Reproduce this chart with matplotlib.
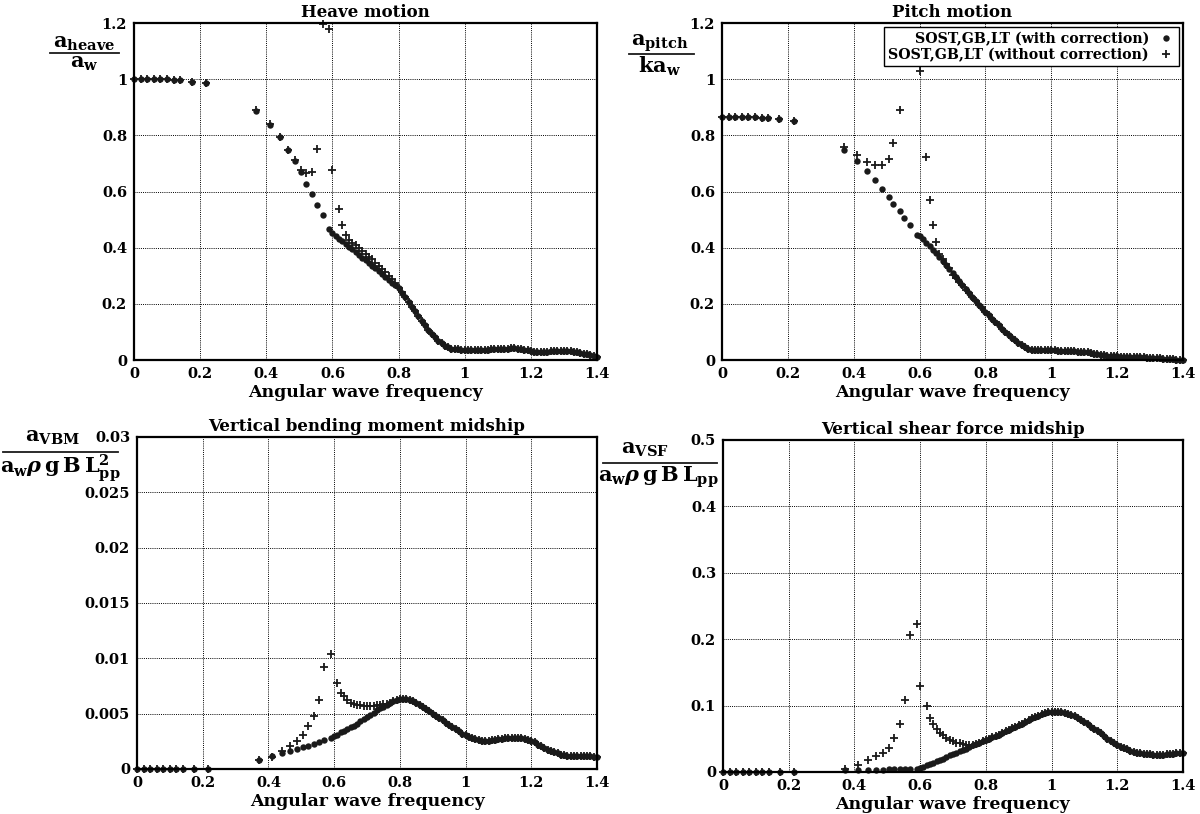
import numpy as np
import matplotlib
matplotlib.use('Agg')
import matplotlib.pyplot as plt
from matplotlib.lines import Line2D
from matplotlib.ticker import FuncFormatter, MultipleLocator

nan = np.nan

# Frequenzpunkte: niedrig, mittel, dicht (0.60 .. 1.40)
freq_low = [0.0, 0.02, 0.04, 0.06, 0.08, 0.10, 0.12, 0.14, 0.174, 0.217]
freq_mid = [0.370, 0.411, 0.440, 0.465, 0.486, 0.506, 0.520, 0.539, 0.553, 0.570, 0.591]
freq_dense = list(np.round(np.arange(60, 141) / 100, 2))
freq = freq_low + freq_mid + freq_dense

# Heave
heave_corr = [
    1.0, 1.0, 1.0, 1.0, 1.0, 0.999, 0.998, 0.996, 0.991, 0.985,
    0.886, 0.837, 0.793, 0.749, 0.708, 0.668, 0.628, 0.591, 0.551, 0.518, 0.467,
    0.452, 0.442, 0.432, 0.423, 0.413, 0.403, 0.394, 0.384, 0.374, 0.365,
    0.355, 0.345, 0.336, 0.326, 0.316, 0.306, 0.296, 0.286, 0.276, 0.266,
    0.255, 0.240, 0.224, 0.207, 0.190, 0.173, 0.157, 0.140, 0.124, 0.108,
    0.094, 0.081, 0.069, 0.059, 0.051, 0.045, 0.041, 0.039, 0.038, 0.037,
    0.037, 0.037, 0.037, 0.037, 0.037, 0.037, 0.037, 0.037, 0.038, 0.038,
    0.038, 0.039, 0.040, 0.041, 0.042, 0.042, 0.041, 0.040, 0.037, 0.034,
    0.032, 0.030, 0.029, 0.029, 0.029, 0.030, 0.031, 0.032, 0.033, 0.033,
    0.033, 0.032, 0.031, 0.029, 0.027, 0.025, 0.023, 0.020, 0.018, 0.015,
    0.012,
]
heave_nocorr = [
    1.0, 1.0, 1.0, 1.0, 1.0, 0.999, 0.998, 0.996, 0.991, 0.985,
    0.890, 0.840, 0.793, 0.749, 0.712, 0.677, 0.665, 0.668, 0.752, 1.195, 1.180,
    0.676, nan, 0.539, 0.481, 0.447, 0.428, 0.418, 0.408, 0.398, 0.388,
    0.378, 0.368, 0.358, 0.347, 0.336, 0.325, 0.313, 0.300, 0.287, 0.273,
    0.258, 0.241, 0.224, 0.207, 0.190, 0.173, 0.157, 0.140, 0.124, 0.108,
    0.094, 0.081, 0.069, 0.059, 0.051, 0.045, 0.041, 0.039, 0.038, 0.037,
    0.037, 0.037, 0.037, 0.037, 0.037, 0.037, 0.037, 0.037, 0.038, 0.038,
    0.038, 0.039, 0.040, 0.041, 0.042, 0.042, 0.041, 0.040, 0.037, 0.034,
    0.032, 0.030, 0.029, 0.029, 0.029, 0.030, 0.031, 0.032, 0.033, 0.033,
    0.033, 0.032, 0.031, 0.029, 0.027, 0.025, 0.023, 0.020, 0.018, 0.015,
    0.012,
]

# Pitch
pitch_corr = [
    0.865, 0.865, 0.865, 0.865, 0.865, 0.864, 0.863, 0.862, 0.858, 0.850,
    0.748, 0.708, 0.672, 0.640, 0.610, 0.582, 0.555, 0.530, 0.505, 0.481, 0.445,
    0.442, 0.430, 0.418, 0.405, 0.393, 0.380, 0.367, 0.353, 0.339, 0.324,
    0.310, 0.295, 0.281, 0.266, 0.252, 0.238, 0.224, 0.210, 0.197, 0.184,
    0.171, 0.159, 0.147, 0.135, 0.124, 0.112, 0.101, 0.090, 0.080, 0.070,
    0.061, 0.053, 0.046, 0.041, 0.037, 0.035, 0.034, 0.034, 0.034, 0.034,
    0.034, 0.034, 0.033, 0.033, 0.033, 0.032, 0.032, 0.031, 0.030, 0.029,
    0.028, 0.027, 0.025, 0.023, 0.021, 0.019, 0.018, 0.016, 0.015, 0.014,
    0.013, 0.012, 0.012, 0.011, 0.011, 0.011, 0.010, 0.010, 0.010, 0.009,
    0.008, 0.007, 0.007, 0.006, 0.005, 0.004, 0.003, 0.002, 0.001, 0.001,
    0.0,
]
pitch_nocorr = [
    0.865, 0.865, 0.865, 0.865, 0.865, 0.864, 0.863, 0.862, 0.858, 0.850,
    0.758, 0.730, 0.705, 0.694, 0.696, 0.717, 0.772, 0.890, nan, nan, nan,
    1.030, nan, 0.722, 0.569, 0.480, 0.421, 0.379, 0.358, 0.342, 0.327,
    0.303, 0.293, 0.277, 0.267, 0.250, 0.237, 0.225, 0.210, 0.197, 0.184,
    0.171, 0.159, 0.147, 0.135, 0.124, 0.112, 0.101, 0.090, 0.080, 0.070,
    0.061, 0.053, 0.046, 0.041, 0.037, 0.035, 0.034, 0.034, 0.034, 0.034,
    0.034, 0.034, 0.033, 0.033, 0.033, 0.032, 0.032, 0.031, 0.030, 0.029,
    0.028, 0.027, 0.025, 0.023, 0.021, 0.019, 0.018, 0.016, 0.015, 0.014,
    0.013, 0.012, 0.012, 0.011, 0.011, 0.011, 0.010, 0.010, 0.010, 0.009,
    0.008, 0.007, 0.007, 0.006, 0.005, 0.004, 0.003, 0.002, 0.001, 0.001,
    0.0,
]

# Vertikales Biegemoment
vbm_corr = [
    0.0, 0.0, 0.0, 0.0, 0.0, 0.0, 0.0, 0.0, 0.0, 0.0,
    0.0008, 0.0012, 0.0014, 0.0016, 0.0018, 0.0020, 0.0021, 0.0023, 0.0024, 0.0026, 0.0028,
    0.0030, 0.0031, 0.0033, 0.0034, 0.0036, 0.0038, 0.0039, 0.0041, 0.0043, 0.0045,
    0.0047, 0.0049, 0.0051, 0.0053, 0.0055, 0.0056, 0.0058, 0.0060, 0.0061, 0.0062,
    0.0063, 0.0063, 0.0063, 0.0062, 0.0061, 0.0060, 0.0058, 0.0056, 0.0054, 0.0052,
    0.0050, 0.0048, 0.0046, 0.0044, 0.0042, 0.0040, 0.0038, 0.0036, 0.0034, 0.0032,
    0.0031, 0.0029, 0.0028, 0.0027, 0.0026, 0.0025, 0.0025, 0.0025, 0.0026, 0.0026,
    0.0027, 0.0027, 0.0028, 0.0028, 0.0028, 0.0028, 0.0028, 0.0028, 0.0027, 0.0026,
    0.0025, 0.0024, 0.0022, 0.0021, 0.0019, 0.0017, 0.0016, 0.0015, 0.0014, 0.0013,
    0.0013, 0.0012, 0.0012, 0.0012, 0.0012, 0.0012, 0.0012, 0.0012, 0.0012, 0.0011,
    0.0011,
]
vbm_nocorr = [
    0.0, 0.0, 0.0, 0.0, 0.0, 0.0, 0.0, 0.0, 0.0, 0.0,
    0.0008, 0.0011, 0.0016, 0.0021, 0.0025, 0.0031, 0.0039, 0.0048, 0.0062, 0.0092, 0.0104,
    nan, 0.0078, 0.0069, 0.0066, 0.0062, 0.0060, 0.0059, 0.0058, 0.0058, 0.0057,
    0.0057, 0.0057, 0.0057, 0.0058, 0.0058, 0.0059, 0.0059, 0.0060, 0.0061, 0.0062,
    0.0063, 0.0063, 0.0063, 0.0062, 0.0061, 0.0060, 0.0058, 0.0056, 0.0054, 0.0052,
    0.0050, 0.0048, 0.0046, 0.0044, 0.0042, 0.0040, 0.0038, 0.0036, 0.0034, 0.0032,
    0.0031, 0.0029, 0.0028, 0.0027, 0.0026, 0.0025, 0.0025, 0.0025, 0.0026, 0.0026,
    0.0027, 0.0027, 0.0028, 0.0028, 0.0028, 0.0028, 0.0028, 0.0028, 0.0027, 0.0026,
    0.0025, 0.0024, 0.0022, 0.0021, 0.0019, 0.0017, 0.0016, 0.0015, 0.0014, 0.0013,
    0.0013, 0.0012, 0.0012, 0.0012, 0.0012, 0.0012, 0.0012, 0.0012, 0.0012, 0.0011,
    0.0011,
]

# Vertikale Querkraft
vsf_corr = [
    0.0, 0.0, 0.0, 0.0, 0.0, 0.0, 0.0, 0.0, 0.0, 0.0,
    0.003, 0.003, 0.003, 0.003, 0.003, 0.004, 0.004, 0.004, 0.005, 0.005, 0.005,
    0.006, 0.008, 0.010, 0.012, 0.014, 0.016, 0.018, 0.020, 0.022, 0.025,
    0.027, 0.029, 0.031, 0.033, 0.035, 0.037, 0.040, 0.042, 0.044, 0.046,
    0.048, 0.050, 0.052, 0.054, 0.056, 0.059, 0.061, 0.063, 0.066, 0.068,
    0.071, 0.073, 0.076, 0.078, 0.081, 0.083, 0.085, 0.087, 0.089, 0.090,
    0.091, 0.091, 0.091, 0.090, 0.089, 0.088, 0.086, 0.084, 0.081, 0.078,
    0.075, 0.072, 0.068, 0.065, 0.061, 0.058, 0.054, 0.050, 0.047, 0.044,
    0.041, 0.038, 0.036, 0.034, 0.032, 0.030, 0.029, 0.028, 0.027, 0.027,
    0.027, 0.026, 0.026, 0.026, 0.026, 0.027, 0.027, 0.027, 0.028, 0.028,
    0.029,
]
vsf_nocorr = [
    0.0, 0.0, 0.0, 0.0, 0.0, 0.0, 0.0, 0.0, 0.0, 0.0,
    0.004, 0.010, 0.018, 0.024, 0.029, 0.036, 0.051, 0.073, 0.109, 0.207, 0.223,
    0.130, nan, 0.099, 0.082, 0.072, 0.065, 0.059, 0.055, 0.051, 0.048,
    0.046, 0.044, 0.043, 0.042, 0.041, 0.041, 0.041, 0.042, 0.044, 0.046,
    0.048, 0.050, 0.052, 0.054, 0.056, 0.059, 0.061, 0.063, 0.066, 0.068,
    0.071, 0.073, 0.076, 0.078, 0.081, 0.083, 0.085, 0.087, 0.089, 0.090,
    0.091, 0.091, 0.091, 0.090, 0.089, 0.088, 0.086, 0.084, 0.081, 0.078,
    0.075, 0.072, 0.068, 0.065, 0.061, 0.058, 0.054, 0.050, 0.047, 0.044,
    0.041, 0.038, 0.036, 0.034, 0.032, 0.030, 0.029, 0.028, 0.027, 0.027,
    0.027, 0.026, 0.026, 0.026, 0.026, 0.027, 0.027, 0.027, 0.028, 0.028,
    0.029,
]

label_corr = "SOST,GB,LT (with correction)"
label_nocorr = "SOST,GB,LT (without correction)"
ink = '#1a1a1a'

plt.rcParams['font.family'] = 'DejaVu Serif'
plt.rcParams['font.weight'] = 'bold'
plt.rcParams['mathtext.fontset'] = 'dejavuserif'

fig = plt.figure(figsize=(12, 8.14), dpi=100)
W, H = 1200.0, 814.0

dot_style = dict(linestyle='none', marker='o', markersize=4.6, color=ink,
                 markeredgewidth=0)
plus_style = dict(linestyle='none', marker='+', markersize=5.8,
                  markeredgewidth=1.3, color=ink)


def fmt(v, pos):
    return '%g' % round(v, 4)


def panel(rect, title, y_corr, y_nocorr, ymax, ystep):
    ax = fig.add_axes(rect)
    ax.plot(freq, y_nocorr, clip_on=False, **plus_style)
    ax.plot(freq, y_corr, clip_on=False, **dot_style)
    ax.set_xlim(0, 1.4)
    ax.set_ylim(0, ymax)
    ax.xaxis.set_major_locator(MultipleLocator(0.2))
    ax.yaxis.set_major_locator(MultipleLocator(ystep))
    ax.xaxis.set_major_formatter(FuncFormatter(fmt))
    ax.yaxis.set_major_formatter(FuncFormatter(fmt))
    ax.tick_params(length=0, pad=5, labelsize=10.5)
    ax.grid(True, color='black', linestyle=(0, (1, 1.2)), linewidth=0.7)
    for sp in ax.spines.values():
        sp.set_linewidth(1.6)
    ax.set_title(title, fontsize=12, fontweight='bold', pad=4)
    ax.set_xlabel("Angular wave frequency", fontsize=12.5, fontweight='bold', labelpad=2)
    return ax


ax_heave = panel([0.1117, 0.5577, 0.3858, 0.4140], "Heave motion",
                 heave_corr, heave_nocorr, 1.2, 0.2)
ax_pitch = panel([0.6017, 0.5577, 0.3842, 0.4140], "Pitch motion",
                 pitch_corr, pitch_nocorr, 1.2, 0.2)
ax_vbm = panel([0.1142, 0.0553, 0.3833, 0.4079], "Vertical bending moment midship",
               vbm_corr, vbm_nocorr, 0.03, 0.005)
ax_vsf = panel([0.6025, 0.0516, 0.3833, 0.4079], "Vertical shear force midship",
               vsf_corr, vsf_nocorr, 0.5, 0.1)

# Legende im Pitch-Plot
h_corr, = ax_pitch.plot([], [], **dot_style)
h_nocorr, = ax_pitch.plot([], [], **plus_style)
leg = ax_pitch.legend([h_corr, h_nocorr], [label_corr, label_nocorr],
                      loc='upper right', markerfirst=False, fancybox=False,
                      fontsize=10.2, handlelength=1.2, handletextpad=0.6,
                      borderpad=0.3, labelspacing=0.15, borderaxespad=0.3,
                      framealpha=1)
leg.get_frame().set_edgecolor('black')
leg.get_frame().set_linewidth(1.0)


# y-Achsen-Beschriftungen als Brueche: Zaehler, Bruchstrich, Nenner
def frac(num, den, x_num, y_num, x0, x1, y_bar, x_den, y_den, size=15):
    fig.text(x_num / W, 1 - y_num / H, num, ha='center', va='center', fontsize=size)
    fig.text(x_den / W, 1 - y_den / H, den, ha='center', va='center', fontsize=size)
    fig.add_artist(Line2D([x0 / W, x1 / W], [1 - y_bar / H, 1 - y_bar / H],
                          color=ink, linewidth=1.3, transform=fig.transFigure))


frac(r'$\mathrm{a}_{\mathbf{heave}}$', r'$\mathrm{a}_{\mathbf{w}}$',
     84, 43, 50, 119, 53, 84, 63)
frac(r'$\mathrm{a}_{\mathbf{pitch}}$', r'$\mathrm{ka}_{\mathbf{w}}$',
     660, 43, 629, 694, 54, 660, 66)
frac(r'$\mathrm{a}_{\mathbf{VBM}}$',
     r'$\mathrm{a}_{\mathbf{w}}\rho\,\mathrm{g\,B\,L}_{\mathbf{pp}}^{2}$',
     52, 437, 3, 118, 452, 60, 468)
frac(r'$\mathrm{a}_{\mathbf{VSF}}$',
     r'$\mathrm{a}_{\mathbf{w}}\rho\,\mathrm{g\,B\,L}_{\mathbf{pp}}$',
     645, 449, 603, 717, 463, 658, 477)

fig.savefig('out.png', dpi=100, facecolor='white')
